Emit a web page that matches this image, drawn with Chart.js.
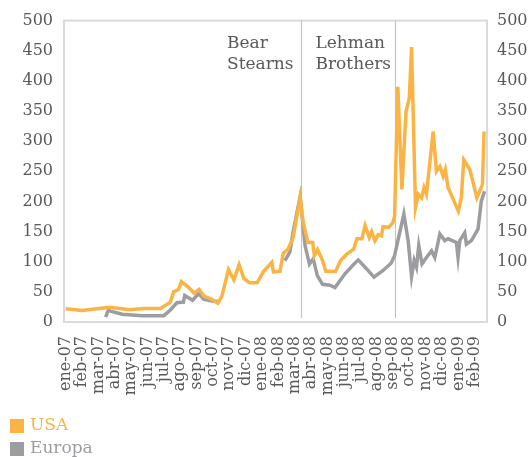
<!DOCTYPE html>
<html>
<head>
<meta charset="utf-8">
<script src="https://cdn.jsdelivr.net/npm/chart.js@4/dist/chart.umd.min.js"></script>
<style>
  html, body { margin: 0; padding: 0; background: #ffffff; }
  #wrap { width: 531px; height: 457px; }
</style>
</head>
<body>
<div id="wrap"><canvas id="c" width="531" height="457"></canvas></div>
<script>
// Month labels (x positions are months since ene-07)
const monthLabels = ['ene-07','feb-07','mar-07','abr-07','may-07','jun-07','jul-07','ago-07','sep-07','oct-07','nov-07','dic-07',
  'ene-08','feb-08','mar-08','abr-08','may-08','jun-08','jul-08','ago-08','sep-08','oct-08','nov-08','dic-08','ene-09','feb-09'];

const yTicks = [0,50,100,150,200,250,300,350,400,450,500];

// USA series
const usaMonths = [0,1.0,2.7,3.9,4.8,5.8,6.4,6.6,6.9,7.07,7.5,7.85,8.15,8.45,8.9,9.3,9.55,9.95,10.28,10.6,10.9,11.25,11.7,12.1,12.6,12.7,13.1,13.3,13.6,13.9,
  14.33,14.5,14.8,15.1,15.2,15.4,15.7,15.9,16.5,16.8,17.2,17.6,17.8,18.1,18.3,18.55,18.7,18.9,19.1,19.3,19.4,19.75,20.0,20.1,
  20.3,20.55,20.8,21.0,21.14,21.38,21.55,21.75,21.9,22.05,22.46,22.66,22.87,23.07,23.2,23.37,24.0,24.18,24.33,24.7,25.13,25.47,25.57];
const usaValues = [22,19,24.5,20.5,22.5,22.5,33,50,54,67,58,48,54,43,38,31,43,87,70,95,72,65,65,84,99,83,84,114,121,140,
  206,168,132,132,110,120,102,84,84,102,113,121,138,138,160,140,150,135,145,143,158,157,165,175,
  390,220,349,371,456,190,212,206,223,212,316,250,258,242,253,223,184,206,269,253,206,228,316];

// Europa series (null = no data)
const euMonths = [2.44,2.6,3.46,4.67,6.0,6.4,6.8,7.2,7.28,7.76,8.13,8.43,8.94,9.35,11.0,
  13.4,13.7,13.9,14.33,14.63,14.9,15.13,15.38,15.7,16.15,16.46,17.07,17.58,17.88,18.4,18.84,19.4,19.9,20.1,
  20.67,20.93,21.14,21.3,21.44,21.58,21.78,22.05,22.36,22.56,22.87,23.17,23.37,23.88,23.98,24.09,24.39,24.49,24.8,25.2,25.4,25.6];
const euValues = [8,19,13,10.5,10.5,20,32,33,44,36,47,38,35,34,null,
  102,116,149,208,127,96,105,77,62.5,61,57,80,95,103,88,74.5,85.5,98,110,
  179,135,75,102,91,127,96.5,107,118,107,146,135,138,132,107,135,148,129,135,154,200,217];

// Events
const eventNames = [['Bear','Stearns'],['Lehman','Brothers']];
const eventMonths = [14.36, 20.12];

const seriesNames = ['USA','Europa'];
const seriesColors = ['#fbb444','#9c9da1'];

const FONT = "'DejaVu Serif', serif";
const TEXT = '#58595b';

function toPoints(xs, ys) { return xs.map((x, i) => ({x: x, y: ys[i]})); }

const overlay = {
  id: 'overlay',
  beforeDatasetsDraw(chart) {
    const ctx = chart.ctx, a = chart.chartArea, xs = chart.scales.x;
    ctx.save();
    ctx.strokeStyle = '#dadada';
    ctx.lineWidth = 2;
    ctx.strokeRect(a.left, a.top, a.right - a.left, a.bottom - a.top);
    ctx.strokeStyle = '#c4c4c4';
    ctx.lineWidth = 1.2;
    const offs = [-74.5, -80];
    eventMonths.forEach((m, i) => {
      const px = Math.round(xs.getPixelForValue(m)) + 0.5;
      ctx.beginPath();
      ctx.moveTo(px, a.top);
      ctx.lineTo(px, a.bottom - 4);
      ctx.stroke();
      ctx.fillStyle = TEXT;
      ctx.font = "17px " + FONT;
      ctx.textAlign = 'left';
      ctx.textBaseline = 'middle';
      eventNames[i].forEach((t, j) => ctx.fillText(t, px + offs[i], a.top + 23 + j * 21));
    });
    ctx.restore();
  },
  afterDraw(chart) {
    const ctx = chart.ctx;
    ctx.save();
    ctx.font = "17px " + FONT;
    ctx.textAlign = 'left';
    ctx.textBaseline = 'middle';
    chart.data.datasets.forEach((ds, i) => {
      const y = 426 + i * 23;
      ctx.fillStyle = ds.borderColor;
      ctx.fillRect(10, y - 7, 14, 14);
      ctx.fillText(ds.label, 30, y);
    });
    ctx.restore();
  }
};

new Chart(document.getElementById('c'), {
  type: 'line',
  data: {
    datasets: [
      { label: seriesNames[0], data: toPoints(usaMonths, usaValues), borderColor: seriesColors[0], backgroundColor: seriesColors[0],
        borderWidth: 3.5, pointRadius: 0, tension: 0, spanGaps: false, yAxisID: 'y' },
      { label: seriesNames[1], data: toPoints(euMonths, euValues), borderColor: seriesColors[1], backgroundColor: seriesColors[1],
        borderWidth: 3.5, pointRadius: 0, tension: 0, spanGaps: false, yAxisID: 'y' }
    ]
  },
  options: {
    responsive: false,
    animation: false,
    events: [],
    layout: { padding: { top: 18, left: 0, right: 0, bottom: 50 } },
    plugins: { legend: { display: false }, tooltip: { enabled: false } },
    scales: {
      x: {
        type: 'linear', min: -0.1, max: 25.75,
        grid: { display: false, drawTicks: false },
        border: { display: false },
        afterBuildTicks: (s) => { s.ticks = monthLabels.map((l, i) => ({ value: i })); },
        afterFit: (s) => { s.height = 85; },
        ticks: {
          autoSkip: false, minRotation: 90, maxRotation: 90, padding: 14,
          color: TEXT, font: { family: FONT, size: 16 },
          callback: (v) => monthLabels[Math.round(v)] || ''
        }
      },
      y: {
        position: 'left', min: 0, max: 500,
        grid: { display: false, drawTicks: false },
        border: { display: false },
        afterBuildTicks: (s) => { s.ticks = yTicks.map(v => ({ value: v })); },
        afterFit: (s) => { s.width = 64; },
        ticks: { padding: 11, color: TEXT, font: { family: FONT, size: 16 } }
      },
      y2: {
        position: 'right', min: 0, max: 500,
        grid: { display: false, drawTicks: false },
        border: { display: false },
        afterBuildTicks: (s) => { s.ticks = yTicks.map(v => ({ value: v })); },
        afterFit: (s) => { s.width = 44; },
        ticks: { padding: 10, color: TEXT, font: { family: FONT, size: 16 } }
      }
    }
  },
  plugins: [overlay]
});
</script>
</body>
</html>
